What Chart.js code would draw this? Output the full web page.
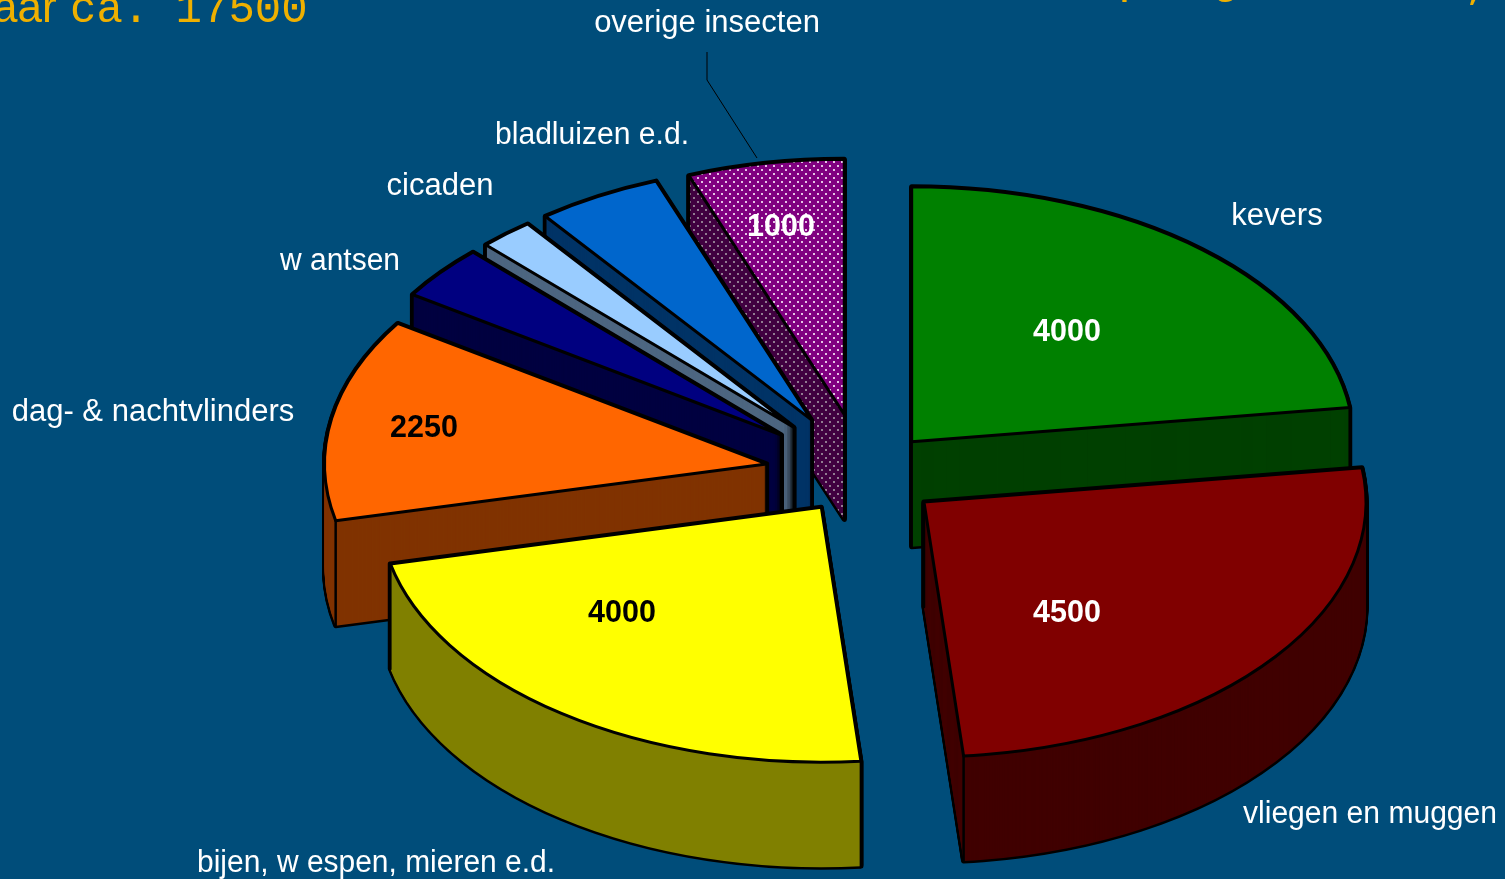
<!DOCTYPE html>
<html>
<head>
<meta charset="utf-8">
<style>
html,body{margin:0;padding:0;background:#004d7a;overflow:hidden}
#wrap{position:absolute;left:0;top:0;width:1505px;height:879px}
canvas{display:block}
</style>
<script src="https://cdn.jsdelivr.net/npm/chart.js@4"></script>
</head>
<body>
<div id="wrap"><canvas id="c" width="1505" height="879"></canvas></div>
<script>
const categories = ["kevers","vliegen en muggen","bijen, w espen, mieren e.d.","dag- & nachtvlinders","w antsen","cicaden","bladluizen e.d.","overige insecten"];
const values = [4000,4500,4000,2250,600,350,800,1000];
const explode = [74,78,71,98,106,106,107,105];
const topColors = ["#008000","#800000","#FFFF00","#FF6600","#000080","#99CCFF","#0066CC","#800080"];
const wallColors = ["#004000","#400000","#808000","#803300","#000040","#4D6680","#003366","#400040"];
const valueInk = ["#fff","#fff","#000","#000",null,null,null,"#fff"];
const valueAt = [[1067,333],[1067,614],[622,614],[424,429],null,null,null,[781,228]];
const nameAt = [[1277,216],[1370,814],[376,863],[153,412],[340,261],[440,186],[592,135],[707,23]];
const nameWidth = [92,254,358,283,120,107,194,226];
const paintOrder = [7,6,5,4,3,2,0,1];
const SQUASH = 0.577, DEPTH = 105, RADIUS = 442;

function dots(base, dot){
  const p=document.createElement('canvas');p.width=8;p.height=8;
  const g=p.getContext('2d');g.fillStyle=base;g.fillRect(0,0,8,8);
  g.fillStyle=dot;
  [[1,1],[5,5]].forEach(a=>{g.globalAlpha=.9;g.fillRect(a[0],a[1],2,2);});
  return g.createPattern(p,'repeat');
}
const fillTop = topColors.slice(); fillTop[7]=dots("#800080","#f0d8f0");
const fillWall = wallColors.slice(); fillWall[7]=dots("#400040","#9a889a");

const pie3d = {
  id:'pie3d',
  beforeDatasetDraw(chart,args){
    const ctx=chart.ctx, arcs=chart.getDatasetMeta(0).data;
    const sector=(a,dz)=>{
      const mid=(a.startAngle+a.endAngle)/2, d=a.options.offset;
      const ox=d*Math.cos(mid), oy=d*Math.sin(mid);
      ctx.save();
      ctx.translate(a.x,a.y+dz);ctx.scale(1,SQUASH);
      ctx.beginPath();ctx.moveTo(ox,oy);
      ctx.arc(ox,oy,a.outerRadius,a.startAngle,a.endAngle);
      ctx.closePath();ctx.restore();
    };
    const vertical=(a,ang,r)=>{
      const mid=(a.startAngle+a.endAngle)/2, d=a.options.offset;
      const x=a.x+d*Math.cos(mid)+r*Math.cos(ang), y=a.y+SQUASH*(d*Math.sin(mid)+r*Math.sin(ang));
      ctx.beginPath();ctx.moveTo(x,y);ctx.lineTo(x,y+DEPTH);ctx.stroke();
    };
    ctx.save();
    ctx.lineJoin='round';ctx.lineCap='round';
    paintOrder.forEach(i=>{
      const a=arcs[i];
      ctx.strokeStyle='#000';ctx.lineWidth=5;
      for(let z=DEPTH;z>=0;z-=1){sector(a,z);ctx.stroke();}
      ctx.fillStyle=fillWall[i];
      for(let z=DEPTH;z>=0;z-=1){sector(a,z);ctx.fill();}
      ctx.lineWidth=2.5;
      const s=a.startAngle, e=a.endAngle;
      const startFace=Math.cos(s)<-1e-6, endFace=Math.cos(e)>1e-6;
      if(startFace||endFace) vertical(a,0,0);
      if(startFace||Math.sin(s)>0) vertical(a,s,a.outerRadius);
      if(endFace||Math.sin(e)>0) vertical(a,e,a.outerRadius);
      sector(a,0);ctx.fillStyle=a.options.backgroundColor;ctx.fill();
      ctx.lineWidth=3;ctx.stroke();
    });
    ctx.restore();
    return false;
  },
  afterDraw(chart){
    const ctx=chart.ctx;
    ctx.save();
    ctx.textBaseline='middle';ctx.textAlign='center';
    ctx.strokeStyle='#000';ctx.lineWidth=1;
    ctx.beginPath();ctx.moveTo(707,52);ctx.lineTo(707,80);ctx.lineTo(757,158);ctx.stroke();
    ctx.font='31px "Liberation Sans", Arial, sans-serif';ctx.fillStyle='#fff';
    categories.forEach((t,i)=>ctx.fillText(t,nameAt[i][0],nameAt[i][1],nameWidth[i]));
    ctx.font='bold 30.5px "Liberation Sans", Arial, sans-serif';
    values.forEach((v,i)=>{ if(valueAt[i]){ctx.fillStyle=valueInk[i];ctx.fillText(String(v),valueAt[i][0],valueAt[i][1]);}});
    ctx.textAlign='left';ctx.textBaseline='alphabetic';ctx.fillStyle='#EFB000';
    ctx.font='44px "Liberation Sans", sans-serif';
    ctx.fillText('aar',-7,22);
    ctx.font='44px "Liberation Mono", monospace';
    ctx.fillText('ca. 17500',70,22);
    ctx.font='48px "Liberation Mono", monospace';
    ctx.fillText('p',1118,-8);
    ctx.fillText('g',1211,-8);
    ctx.fillText(',',1464,-4);
    ctx.restore();
  }
};

new Chart(document.getElementById('c'),{
  type:'pie',
  data:{labels:categories,datasets:[{data:values,backgroundColor:fillTop,offset:explode,borderWidth:0,radius:RADIUS}]},
  options:{
    responsive:false,animation:false,
    layout:{padding:{left:221,top:69}},
    plugins:{legend:{display:false},tooltip:{enabled:false}}
  },
  plugins:[pie3d]
});
</script>
</body>
</html>
